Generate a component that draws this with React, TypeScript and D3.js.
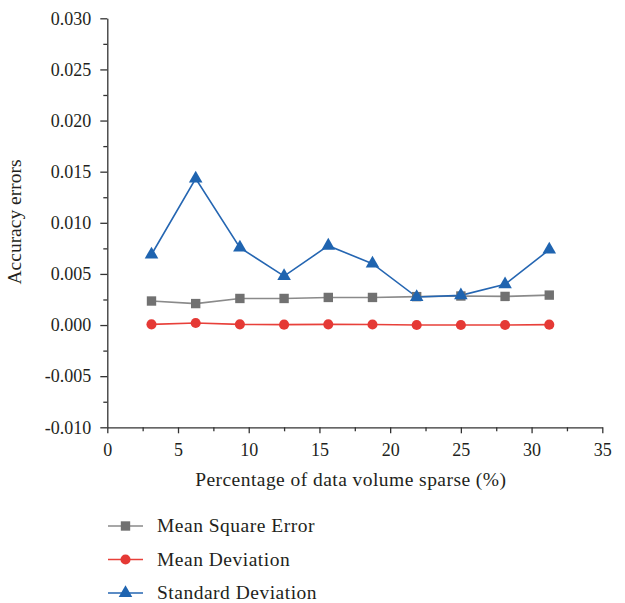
import * as d3 from "d3";
import { useEffect, useRef } from "react";

const sparsity = [3.125, 6.25, 9.375, 12.5, 15.625, 18.75, 21.875, 25, 28.125, 31.25];
const meanSquareError = [0.00235, 0.0021, 0.0026, 0.0026, 0.0027, 0.0027, 0.00278, 0.00284, 0.0028, 0.00293];
const meanDeviation = [0.00007, 0.0002, 0.00007, 0.00004, 0.00007, 0.00005, 0.0, 0.0, 0.0, 0.00004];
const standardDeviation = [0.0069, 0.01432, 0.00757, 0.00479, 0.00776, 0.006, 0.00274, 0.0029, 0.00398, 0.00737];

const xTicks = [0, 5, 10, 15, 20, 25, 30, 35];
const yTicks = [-0.01, -0.005, 0, 0.005, 0.01, 0.015, 0.02, 0.025, 0.03];

const seriesNames = ["Mean Square Error", "Mean Deviation", "Standard Deviation"];

export default function App() {
  const ref = useRef<SVGSVGElement>(null);

  useEffect(() => {
    const width = 625,
      height = 603;
    const font = "'Liberation Serif', 'Times New Roman', serif";
    const ink = "#231f20";

    const svg = d3.select(ref.current);
    svg.selectAll("*").remove();
    svg.attr("width", width).attr("height", height);

    const x = d3.scaleLinear().domain([0, 35]).range([107.3, 602.3]);
    const y = d3.scaleLinear().domain([-0.01, 0.03]).range([427.3, 18.3]);

    const series = [
      { name: seriesNames[0], values: meanSquareError, line: "#8a8a8a", fill: "#717171", shape: d3.symbolSquare, size: 88 },
      { name: seriesNames[1], values: meanDeviation, line: "#e8403a", fill: "#e53935", shape: d3.symbolCircle, size: 80 },
      { name: seriesNames[2], values: standardDeviation, line: "#2566b2", fill: "#1f64b0", shape: d3.symbolTriangle, size: 80 },
    ];

    // minor ticks first so majors draw over them
    const xMinor = xTicks.slice(0, -1).map((t) => t + 2.5);
    const yMinor = yTicks.slice(0, -1).map((t) => t + 0.0025);

    svg
      .append("g")
      .attr("transform", `translate(0, ${y(-0.01)})`)
      .call(d3.axisBottom(x).tickValues(xMinor).tickSize(4).tickFormat(() => "").tickSizeOuter(0))
      .call((g) => g.select(".domain").remove());
    svg
      .append("g")
      .attr("transform", `translate(${x(0)}, 0)`)
      .call(d3.axisLeft(y).tickValues(yMinor).tickSize(4).tickFormat(() => "").tickSizeOuter(0))
      .call((g) => g.select(".domain").remove());

    const xAxis = svg
      .append("g")
      .attr("transform", `translate(0, ${y(-0.01)})`)
      .call(d3.axisBottom(x).tickValues(xTicks).tickSize(6).tickPadding(10).tickSizeOuter(0));
    const yAxis = svg
      .append("g")
      .attr("transform", `translate(${x(0)}, 0)`)
      .call(
        d3
          .axisLeft(y)
          .tickValues(yTicks)
          .tickSize(7)
          .tickPadding(9)
          .tickSizeOuter(0)
          .tickFormat((d) => (+d).toFixed(3))
      );

    [xAxis, yAxis].forEach((g) => {
      g.selectAll("text").attr("font-family", font).attr("font-size", 18).attr("fill", ink);
      g.select(".domain").attr("stroke", "#333").attr("stroke-width", 1.3);
    });
    svg.selectAll("g line").attr("stroke", "#333").attr("stroke-width", 1.3);

    svg
      .append("text")
      .attr("x", (x(0) + x(35)) / 2 - 4)
      .attr("y", 486)
      .attr("text-anchor", "middle")
      .attr("font-family", font)
      .attr("font-size", 19.5)
      .attr("letter-spacing", 0.45)
      .attr("fill", ink)
      .text("Percentage of data volume sparse (%)");

    svg
      .append("text")
      .attr("transform", `translate(21, 222) rotate(-90)`)
      .attr("text-anchor", "middle")
      .attr("font-family", font)
      .attr("font-size", 19.5)
      .attr("fill", ink)
      .text("Accuracy errors");

    const line = d3
      .line<number>()
      .x((_, i) => x(sparsity[i]))
      .y((d) => y(d));

    series.forEach((s) => {
      svg
        .append("path")
        .attr("d", line(s.values))
        .attr("fill", "none")
        .attr("stroke", s.line)
        .attr("stroke-width", 1.6);
    });

    series.forEach((s) => {
      const sym = d3.symbol().type(s.shape).size(s.size);
      svg
        .append("g")
        .selectAll("path")
        .data(s.values)
        .join("path")
        .attr("d", sym)
        .attr("transform", (d, i) => `translate(${x(sparsity[i])}, ${y(d)})`)
        .attr("fill", s.fill);
    });

    // legend
    const legend = svg
      .append("g")
      .selectAll("g")
      .data(series)
      .join("g")
      .attr("transform", (_, i) => `translate(108, ${526 + i * 33.5})`);
    legend
      .append("line")
      .attr("x1", 0)
      .attr("x2", 35)
      .attr("stroke", (d) => d.line)
      .attr("stroke-width", 1.6);
    legend
      .append("path")
      .attr("d", (d) => d3.symbol().type(d.shape).size(d.size)())
      .attr("transform", "translate(17.5, 0)")
      .attr("fill", (d) => d.fill);
    legend
      .append("text")
      .attr("x", 49)
      .attr("dy", "0.32em")
      .attr("font-family", font)
      .attr("font-size", 19.5)
      .attr("letter-spacing", 0.5)
      .attr("fill", ink)
      .text((d) => d.name);
  }, []);

  return <svg ref={ref} style={{ position: "absolute", left: 0, top: 0 }}></svg>;
}
